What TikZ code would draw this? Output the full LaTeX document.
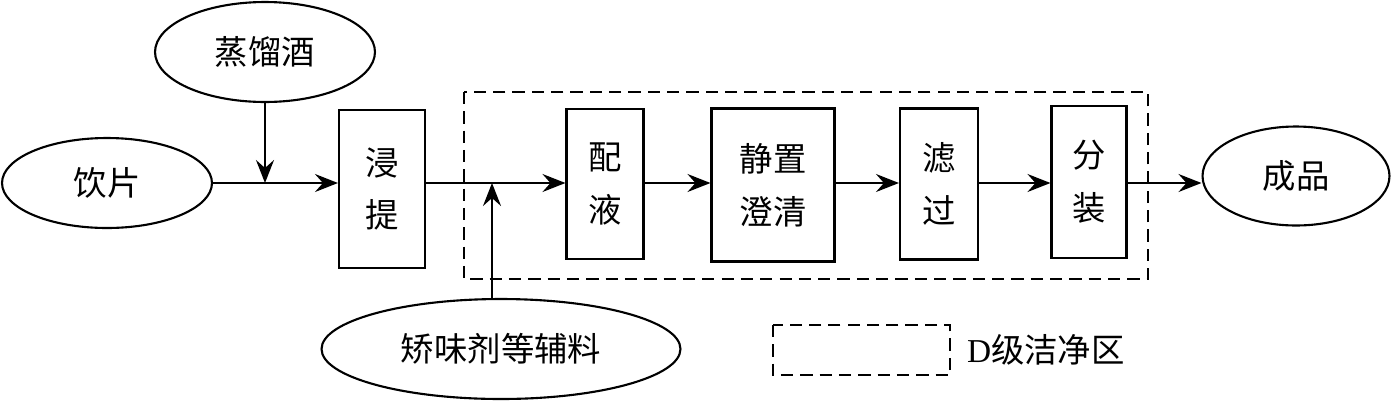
\documentclass[tikz,border=0pt]{standalone}
\usepackage{fontspec}
\setmainfont{Liberation Serif}
\newfontfamily\cjk{Noto Sans CJK SC}
\usetikzlibrary{arrows.meta,shapes.geometric}

\begin{document}
\begin{tikzpicture}[x=0.02cm,y=-0.02cm,line width=1.2pt,
    font=\cjk\fontsize{19}{30}\selectfont,
    arr/.style={-{Stealth[length=4.6mm,width=3.6mm,inset=1.6mm]}},
    box/.style={draw,align=center,inner sep=0pt},
    oval/.style={draw,ellipse,inner sep=0pt},
    zone/.style={dashed,dash pattern=on 7pt off 4pt}]
    \useasboundingbox (0,0) rectangle (1391,403);
    \node[oval,minimum width=4.2cm,minimum height=1.8cm] (yp) at (107,183) {饮片};
    \node[oval,minimum width=4.4cm,minimum height=2cm] (zlj) at (265,52) {蒸馏酒};
    \node[oval,minimum width=7.18cm,minimum height=2cm] (fl) at (501,349) {矫味剂等辅料};
    \node[oval,minimum width=3.74cm,minimum height=1.98cm] (cp) at (1296,176) {成品};
    \node[box,minimum width=1.72cm,minimum height=3.16cm] (jt) at (382,189) {浸\\提};
    \node[box,minimum width=1.54cm,minimum height=3cm] (py) at (605,184) {配\\液};
    \node[box,minimum width=2.46cm,minimum height=3.06cm] (jzcq) at (773,185) {静置\\澄清};
    \node[box,minimum width=1.56cm,minimum height=3.02cm] (lg) at (939,184) {滤\\过};
    \node[box,minimum width=1.5cm,minimum height=3.04cm] (fz) at (1089,182) {分\\装};
    \coordinate (j1) at (265,183); \coordinate (j2) at (492,183);
    % main line
    \draw[arr] (yp.east) -- (jt.west |- yp.east);
    \draw[arr] (zlj.south) -- (j1);
    \draw[arr] (jt.east |- yp.east) -- (py.west |- yp.east);
    \draw[arr] (j2 |- fl.north) -- (j2);
    \draw[arr] (py.east |- yp.east) -- (jzcq.west |- yp.east);
    \draw[arr] (jzcq.east |- yp.east) -- (lg.west |- yp.east);
    \draw[arr] (lg.east |- yp.east) -- (fz.west |- yp.east);
    \draw[arr] (fz.east |- yp.east) -- (cp.west |- yp.east);
    % clean zone + legend
    \draw[zone] (464,92) rectangle (1148,279);
    \draw[zone] (773,325) rectangle (950,375);
    \node[anchor=west,inner sep=0pt] (lgd) at (966,350) {{\rmfamily D}级洁净区};
\end{tikzpicture}
\end{document}
